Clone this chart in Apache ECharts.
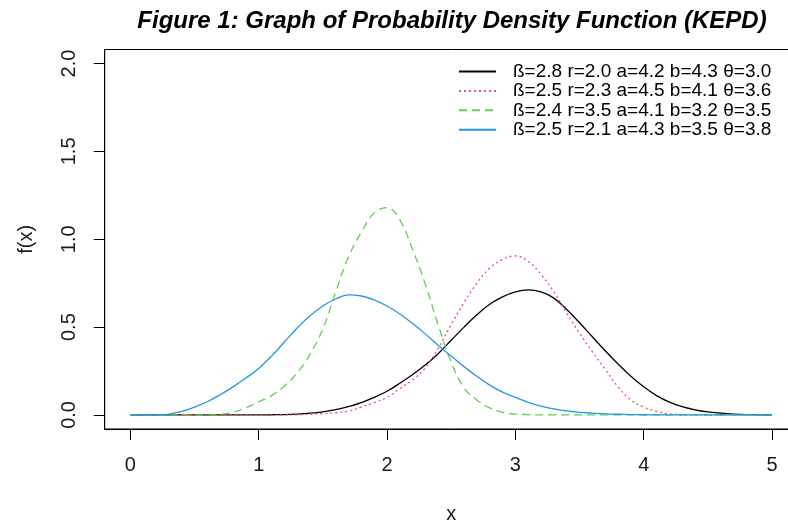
<!DOCTYPE html>
<html>
<head>
<meta charset="utf-8">
<script src="https://cdn.jsdelivr.net/npm/echarts@6/dist/echarts.min.js"></script>
<style>
  html, body { margin: 0; padding: 0; background: #fff; overflow: hidden; }
  #main { width: 798px; height: 529px; }
</style>
</head>
<body>
<div id="main"></div>
<script>
// x 取值 0 到 5，步长 0.1
var xs = [];
for (var i = 0; i <= 50; i++) { xs.push(+(i / 10).toFixed(1)); }

// f(x)
var blackVals = [0, 0, 0, 0, 0, 0, 0, 0, 0, 0, 0,
  0.001, 0.002, 0.005, 0.01, 0.018, 0.03, 0.048, 0.07, 0.10, 0.135,
  0.18, 0.23, 0.285, 0.35, 0.425, 0.50, 0.57, 0.63, 0.672, 0.70,
  0.712, 0.70, 0.665, 0.60, 0.525, 0.445, 0.365, 0.29, 0.22, 0.16,
  0.11, 0.073, 0.047, 0.029, 0.017, 0.01, 0.005, 0.002, 0.001, 0];
var redVals = [0, 0, 0, 0, 0, 0, 0, 0, 0, 0, 0,
  0, 0, 0.001, 0.004, 0.007, 0.012, 0.022, 0.045, 0.07, 0.10,
  0.15, 0.20, 0.27, 0.38, 0.515, 0.64, 0.75, 0.835, 0.885, 0.905,
  0.875, 0.80, 0.70, 0.58, 0.465, 0.36, 0.26, 0.16, 0.085, 0.045,
  0.02, 0.006, 0.002, 0, 0, 0, 0, 0, 0, 0];
var greenVals = [0, 0, 0, 0, 0, 0, 0, 0.004, 0.015, 0.04, 0.075,
  0.11, 0.165, 0.24, 0.345, 0.49, 0.70, 0.90, 1.04, 1.15, 1.18,
  1.11, 0.94, 0.74, 0.51, 0.30, 0.155, 0.085, 0.04, 0.015, 0.005,
  0.002, 0, 0, 0, 0, 0, 0, 0, 0, 0,
  0, 0, 0, 0, 0, 0, 0, 0, 0, 0];
var blueVals = [0, 0, 0.001, 0.005, 0.02, 0.045, 0.075, 0.115, 0.16, 0.21, 0.265,
  0.335, 0.415, 0.495, 0.565, 0.62, 0.66, 0.683, 0.677, 0.655, 0.62,
  0.575, 0.52, 0.46, 0.395, 0.335, 0.275, 0.22, 0.17, 0.13, 0.10,
  0.072, 0.05, 0.034, 0.023, 0.015, 0.01, 0.006, 0.004, 0.002, 0.001,
  0, 0, 0, 0, 0, 0, 0, 0, 0, 0];

var seriesNames = [
  'ß=2.8 r=2.0 a=4.2 b=4.3 θ=3.0',
  'ß=2.5 r=2.3 a=4.5 b=4.1 θ=3.6',
  'ß=2.4 r=3.5 a=4.1 b=3.2 θ=3.5',
  'ß=2.5 r=2.1 a=4.3 b=3.5 θ=3.8'
];
var xTicks = [0, 1, 2, 3, 4, 5];
var yTicks = [0, 0.5, 1, 1.5, 2];

function pairs(vals) {
  var out = [];
  for (var i = 0; i < xs.length; i++) { out.push([xs[i], vals[i]]); }
  return out;
}

var chart = echarts.init(document.getElementById('main'));
var font = 'Liberation Sans, Arial, sans-serif';

function buildLine(name, vals, color, type) {
  return {
    name: name,
    type: 'line',
    data: pairs(vals),
    showSymbol: false,
    symbol: 'none',
    smooth: 0.4,
    lineStyle: { color: color, width: 1.3, type: type },
    itemStyle: { color: color }
  };
}

var option = {
  animation: false,
  title: {
    text: 'Figure 1: Graph of Probability Density Function (KEPD)',
    left: 447,
    textAlign: 'center',
    top: 4,
    textStyle: { fontFamily: font, fontSize: 24, fontWeight: 'bold', fontStyle: 'italic', color: '#000' }
  },
  legend: {
    orient: 'vertical',
    left: 458,
    top: 62,
    padding: 0,
    itemWidth: 37,
    itemHeight: 14,
    itemGap: 0.4,
    data: seriesNames,
    itemStyle: { opacity: 0 },
    textStyle: { fontFamily: font, fontSize: 19, color: '#000', padding: [0, 0, 0, 12] }
  },
  grid: { left: 104.7, top: 49.5, width: 693, height: 383, show: true, borderColor: '#000', borderWidth: 1 },
  xAxis: {
    type: 'value',
    min: -0.2,
    max: 5.2,
    name: 'x',
    nameLocation: 'middle',
    nameGap: 75,
    nameTextStyle: { fontFamily: font, fontSize: 20, color: '#1a1a1a' },
    splitLine: { show: false },
    axisLine: { show: true, onZero: false, lineStyle: { color: '#000' } },
    axisTick: { show: true, length: 11, customValues: xTicks, lineStyle: { color: '#000' } },
    axisLabel: { customValues: xTicks, margin: 26, fontFamily: font, fontSize: 20, color: '#1a1a1a' }
  },
  yAxis: {
    type: 'value',
    min: -0.08,
    max: 2.08,
    name: 'f(x)',
    nameLocation: 'middle',
    nameGap: 68,
    nameRotate: 90,
    nameTextStyle: { fontFamily: font, fontSize: 20, color: '#1a1a1a' },
    splitLine: { show: false },
    axisLine: { show: true, onZero: false, lineStyle: { color: '#000' } },
    axisTick: { show: true, length: 11, customValues: yTicks, lineStyle: { color: '#000' } },
    axisLabel: {
      customValues: yTicks,
      rotate: 90,
      margin: 25,
      fontFamily: font, fontSize: 20, color: '#1a1a1a',
      formatter: function (v) { return v.toFixed(1); }
    }
  },
  series: [
    buildLine(seriesNames[0], blackVals, '#000000', 'solid'),
    buildLine(seriesNames[1], redVals, '#DF536B', [2, 3]),
    buildLine(seriesNames[2], greenVals, '#61D04F', [8, 5]),
    buildLine(seriesNames[3], blueVals, '#2297E6', 'solid')
  ]
};
chart.setOption(option);
</script>
</body>
</html>
